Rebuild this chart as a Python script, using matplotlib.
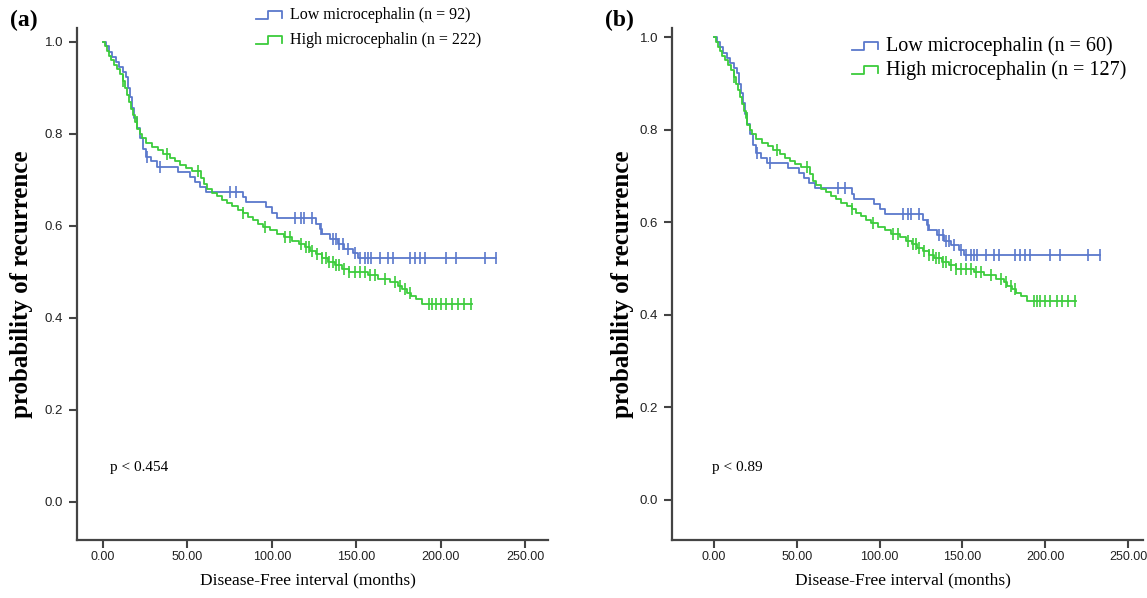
import numpy as np
import matplotlib.pyplot as plt
from matplotlib.lines import Line2D

# Kaplan-Meier step curves (months, probability after the step)
low_t = [0, 1.8, 3.6, 5.3, 7.7, 9.5, 11.8, 13.6, 14.8, 16, 17.2, 18.4, 20.1, 21.9,
         23.7, 25.5, 28.4, 32, 44.4, 51.5, 54.5, 57.5, 61, 83, 84.7, 96.6, 100, 103,
         126, 128.6, 130, 134.5, 139, 143, 148, 151]
low_v = [1.0, 0.99, 0.978, 0.967, 0.956, 0.945, 0.934, 0.923, 0.90, 0.88, 0.857, 0.835,
         0.813, 0.79, 0.768, 0.75, 0.74, 0.728, 0.717, 0.706, 0.695, 0.684, 0.673, 0.662,
         0.651, 0.64, 0.628, 0.617, 0.605, 0.594, 0.583, 0.572, 0.56, 0.55, 0.54, 0.53]
low_end = 233
low_cens = [26, 34, 75, 79, 114, 117, 119, 124, 129, 136, 138, 140, 142, 145, 149,
            152, 155, 157, 159, 164, 169, 172, 182, 185, 188, 191, 203, 209, 226, 233]

high_t = [0, 1.2, 2.4, 3.6, 4.7, 6.5, 8.3, 10, 11.8, 13, 14.2, 15.4, 16.6, 17.8, 19,
          20.1, 21.9, 23.1, 25.5, 29, 32.6, 35.5, 39.7, 42.7, 45.6, 49, 52.7, 58, 59.8,
          61.6, 64.6, 67.5, 70.5, 73.5, 76.4, 80, 83, 86, 88.9, 91.8, 94.8, 99, 103, 107,
          112, 116, 119.7, 122.6, 126, 129.7, 133, 137.4, 141.6, 146, 157, 163, 170,
          174.8, 177, 180, 182.5, 185.4, 189]
high_v = [1.0, 0.99, 0.98, 0.97, 0.96, 0.95, 0.94, 0.93, 0.915, 0.90, 0.885, 0.87, 0.855,
          0.84, 0.825, 0.81, 0.80, 0.79, 0.78, 0.772, 0.765, 0.757, 0.748, 0.74, 0.733,
          0.726, 0.72, 0.705, 0.69, 0.68, 0.672, 0.665, 0.657, 0.65, 0.642, 0.635, 0.628,
          0.62, 0.613, 0.605, 0.598, 0.59, 0.583, 0.575, 0.568, 0.56, 0.553, 0.545, 0.538,
          0.53, 0.522, 0.515, 0.507, 0.50, 0.493, 0.485, 0.478, 0.47, 0.462, 0.455, 0.447,
          0.44, 0.43]
high_end = 218.6
high_cens = [12, 20, 38, 56, 83, 96, 108, 111, 117, 120, 122, 124, 127, 130, 132, 134,
             136, 138, 140, 143, 146, 149, 152, 155, 158, 161, 167, 173, 176, 179, 182,
             193, 195, 197, 200, 203, 207, 210, 214, 218]

panels = ["(a)", "(b)"]
low_labels = ["Low microcephalin (n = 92)", "Low microcephalin (n = 60)"]
high_labels = ["High microcephalin (n = 222)", "High microcephalin (n = 127)"]
p_labels = ["p < 0.454", "p < 0.89"]
xticks = [0, 50, 100, 150, 200, 250]
yticks = [0.0, 0.2, 0.4, 0.6, 0.8, 1.0]

BLUE = "#5a78cc"
GREEN = "#3ccc3c"
W, H = 1147, 598

serif = ["Liberation Serif", "DejaVu Serif"]
sans = ["Liberation Sans", "DejaVu Sans"]


def step_value(ts, vs, t):
    i = np.searchsorted(ts, t, side="right") - 1
    return np.array(vs)[i]


def km(ax, ts, vs, end, cens, color):
    x = list(ts) + [end]
    y = list(vs) + [vs[-1]]
    ax.step(x, y, where="post", color=color, lw=1.3)
    ax.plot(cens, step_value(ts, vs, cens), ls="none", marker="|", ms=8,
            mew=1.2, color=color)


fig = plt.figure(figsize=(W / 100, H / 100), dpi=100)

# axes boxes in pixels: left, right, top, bottom
boxes = [(77, 548, 28, 540), (672, 1143, 28, 540)]
lims = [((-15.4, 263.6), (-0.083, 1.03)), ((-25.4, 259), (-0.087, 1.02))]
ylab_x = [-0.093, -0.081]
p_x = [0.07, 0.085]

for k in range(2):
    l, r, t, b = boxes[k]
    ax = fig.add_axes([l / W, 1 - b / H, (r - l) / W, (b - t) / H])
    km(ax, low_t, low_v, low_end, low_cens, BLUE)
    km(ax, high_t, high_v, high_end, high_cens, GREEN)
    ax.set_xlim(*lims[k][0])
    ax.set_ylim(*lims[k][1])
    for s in ["top", "right"]:
        ax.spines[s].set_visible(False)
    for s in ["left", "bottom"]:
        ax.spines[s].set_color("#444444")
        ax.spines[s].set_linewidth(1.6)
    ax.set_xticks(xticks)
    ax.set_xticklabels(["%.2f" % v for v in xticks])
    ax.set_yticks(yticks)
    ax.set_yticklabels(["%.1f" % v for v in yticks])
    ax.tick_params(direction="out", length=6, width=1.5, color="#444444",
                   labelsize=9)
    ax.tick_params(axis="x", pad=2)
    ax.tick_params(axis="y", pad=4, labelsize=9.5)
    for lab in ax.get_xticklabels() + ax.get_yticklabels():
        lab.set_family(sans)
        lab.set_color("#222222")
    ax.set_xlabel("Disease-Free interval (months)", family=serif, fontsize=12.5)
    ax.xaxis.set_label_coords(0.49, -0.064)
    ax.set_ylabel("probability of recurrence", family=serif, fontsize=18,
                  fontweight="bold")
    ax.yaxis.set_label_coords(ylab_x[k], 0.5)
    ax.text(p_x[k], 0.135, p_labels[k], transform=ax.transAxes,
            family=serif, fontsize=11)

# panel letters
fig.text(10 / W, 1 - 20 / H, panels[0], family=serif, fontsize=17,
         fontweight="bold", va="center")
fig.text(605 / W, 1 - 20 / H, panels[1], family=serif, fontsize=17,
         fontweight="bold", va="center")

# hand-drawn legends with the step-shaped symbol
legends = [(256, 15, 40, 11.5, 0), (852, 46, 70, 14.5, 1)]
for x0, y_low, y_high, fs, k in legends:
    for yc, color, txt in [(y_low, BLUE, low_labels[k]), (y_high, GREEN, high_labels[k])]:
        xs = np.array([x0, x0 + 12, x0 + 12, x0 + 26, x0 + 26])
        ys = np.array([yc + 4, yc + 4, yc - 4, yc - 4, yc + 3])
        fig.add_artist(Line2D(xs / W, 1 - ys / H, color=color, lw=1.3))
        fig.text((x0 + 34) / W, 1 - yc / H, txt, family=serif, fontsize=fs,
                 va="center")

fig.savefig("out.png", dpi=100)
